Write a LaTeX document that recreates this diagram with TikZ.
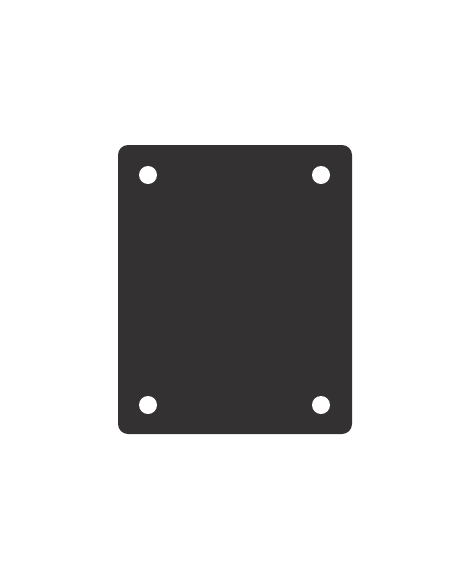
\documentclass[tikz,border=0pt]{standalone}
\usepackage{xcolor}
\definecolor{plategray}{HTML}{333132}
\begin{document}
\begin{tikzpicture}[x=1pt,y=-1pt]
	\tikzstyle{hole}=[fill=white]
	\useasboundingbox (0,0) rectangle (452,584);
	\fill [plategray, rounded corners=10pt] (118,145) rectangle (352,434);
	\fill [hole] (148,175) circle (9);
	\fill [hole] (321,175) circle (9);
	\fill [hole] (148,405) circle (9);
	\fill [hole] (321,405) circle (9);
\end{tikzpicture}
\end{document}
